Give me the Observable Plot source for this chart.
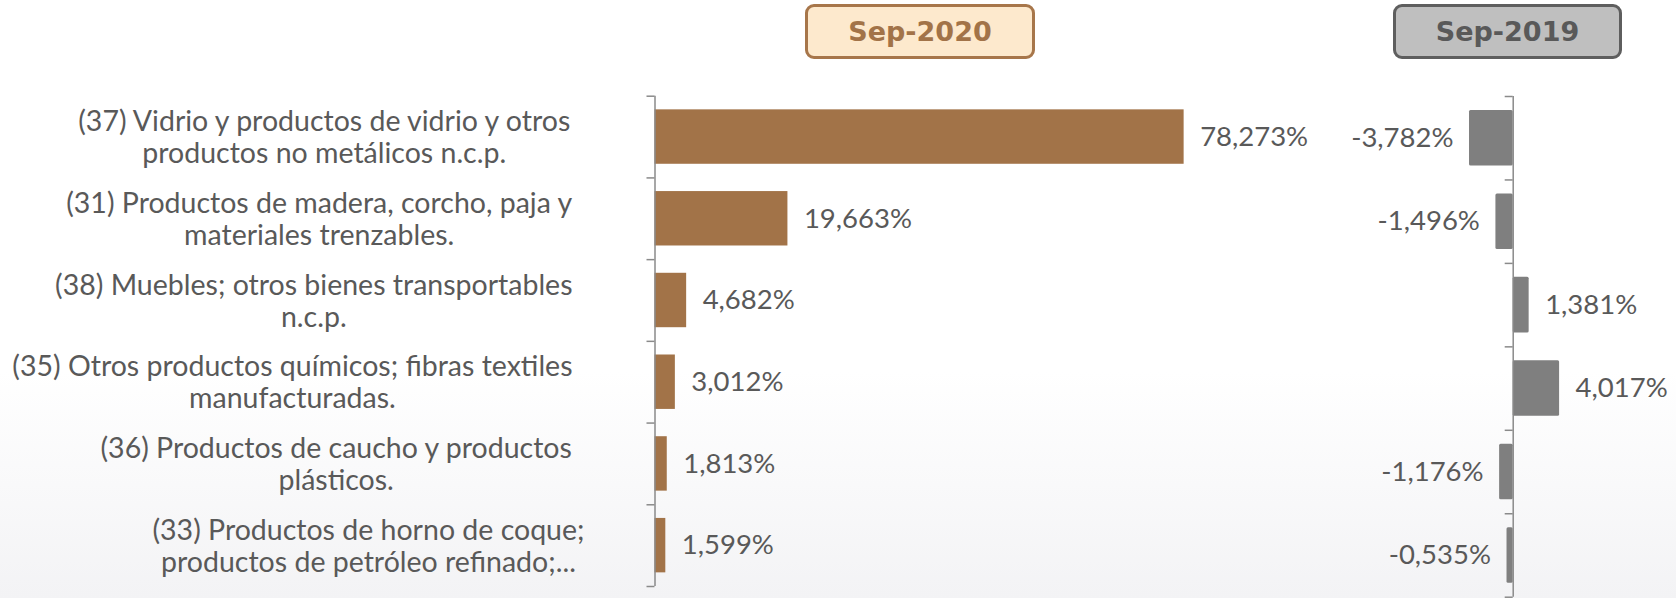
<!DOCTYPE html>
<html><head><meta charset="utf-8">
<script src="https://cdn.jsdelivr.net/npm/d3@7"></script>
<script src="https://cdn.jsdelivr.net/npm/@observablehq/plot@0.6"></script>
<style>
body{margin:0;background:#fff;}
#chart{position:relative;width:1676px;height:598px;overflow:hidden;
  background:linear-gradient(to bottom,#ffffff 0%,#ffffff 62%,#f3f3f5 100%);}
#chart svg{position:absolute;top:0;}
.hdr{position:absolute;top:4px;height:55px;box-sizing:border-box;border:3px solid;border-radius:9px;
  display:flex;align-items:center;justify-content:center;font:bold 27px "DejaVu Sans",sans-serif;}
</style></head>
<body><div id="chart"></div>
<script>
const categories = [
  "(37) Vidrio y productos de vidrio y otros\nproductos no metálicos n.c.p.",
  "(31) Productos de madera, corcho, paja y\nmateriales trenzables.",
  "(38) Muebles; otros bienes transportables\nn.c.p.",
  "(35) Otros productos químicos; fibras textiles\nmanufacturadas.",
  "(36) Productos de caucho y productos\nplásticos.",
  "(33) Productos de horno de coque;\nproductos de petróleo refinado;..."
];
const sep2020 = [78.273, 19.663, 4.682, 3.012, 1.813, 1.599];
const sep2019 = [-3.782, -1.496, 1.381, 4.017, -1.176, -0.535];
const periods = ["Sep-2020", "Sep-2019"];

const rows = categories.map((c, i) => ({i, label: c, v20: sep2020[i], v19: sep2019[i]}));
const loc = d3.formatLocale({decimal: ",", thousands: ".", grouping: [3], currency: ["", ""], minus: "-"});
const f3 = loc.format(".3f");
const fmt = v => f3(v) + "%";

const BROWN = "#a27348", GRAY = "#7f7f7f", TXT = "#595959", AXIS = "#8a8a8a";
const FONT = "Lato", FS_CAT = 28.5, FS_VAL = 27.5, LH = 32 / 28.5, PAD = 0.167;

const chart = document.getElementById("chart");

// text measurement for centred multi-line category labels
const ctx = document.createElement("canvas").getContext("2d");
ctx.font = `400 ${FS_CAT}px ${FONT}`;
const maxW = s => Math.max(...s.split("\n").map(l => ctx.measureText(l).width));
const rightEdges = [572, 572, 572, 572, 572, 584];

// Left panel (Sep-2020)
const PX_L = 6.76, AX_L = 654.5, W_L = 1350;
const left = Plot.plot({
  width: W_L, height: 598, marginLeft: AX_L, marginRight: 0, marginTop: 95.7, marginBottom: 12,
  x: {domain: [0, (W_L - AX_L) / PX_L], axis: null},
  y: {domain: [0, 6], reverse: true, axis: null},
  style: {background: "transparent", overflow: "visible", fontFamily: FONT},
  marks: [
    Plot.rectX(rows, {x1: 0, x2: "v20", y1: d => d.i + PAD, y2: d => d.i + 1 - PAD, fill: BROWN}),
    Plot.text(rows, {x: "v20", y: d => d.i + 0.5, text: d => fmt(d.v20), dx: 16, textAnchor: "start",
      fill: TXT, fontSize: FS_VAL}),
    Plot.ruleX([0], {y1: 0, y2: 6, stroke: AXIS, strokeWidth: 1.5}),
    Plot.ruleY(d3.range(7), {x1: -8 / PX_L, x2: 0, stroke: AXIS, strokeWidth: 1.5}),
    ...rows.map(r => Plot.text([r], {
      frameAnchor: "left", y: d => d.i + 0.5, text: "label", textAnchor: "middle",
      lineHeight: LH, fontSize: FS_CAT, fill: TXT,
      dx: (rightEdges[r.i] - maxW(r.label) / 2) - AX_L
    }))
  ]
});
left.style.left = "0px";
chart.appendChild(left);

// Right panel (Sep-2019)
const PX_R = 11.55, X0_R = 1350, AX_R = 1512.7, W_R = 326;
const right = Plot.plot({
  width: W_R, height: 598, marginLeft: 0, marginRight: 0, marginTop: 96, marginBottom: 1.3,
  x: {domain: [-(AX_R - X0_R) / PX_R, (X0_R + W_R - AX_R) / PX_R], axis: null},
  y: {domain: [0, 6], reverse: true, axis: null},
  style: {background: "transparent", overflow: "visible", fontFamily: FONT},
  marks: [
    Plot.rectX(rows, {x1: 0, x2: "v19", y1: d => d.i + PAD, y2: d => d.i + 1 - PAD, fill: GRAY, rx: 1.5}),
    Plot.text(rows.filter(d => d.v19 < 0), {x: "v19", y: d => d.i + 0.5, text: d => fmt(d.v19), dx: -16,
      textAnchor: "end", fill: TXT, fontSize: FS_VAL}),
    Plot.text(rows.filter(d => d.v19 >= 0), {x: "v19", y: d => d.i + 0.5, text: d => fmt(d.v19), dx: 16,
      textAnchor: "start", fill: TXT, fontSize: FS_VAL}),
    Plot.ruleX([0], {y1: 0, y2: 6, stroke: AXIS, strokeWidth: 1.5}),
    Plot.ruleY(d3.range(7), {x1: -8 / PX_R, x2: 0, stroke: AXIS, strokeWidth: 1.5})
  ]
});
right.style.left = X0_R + "px";
chart.appendChild(right);

// Panel headers
const hdrStyles = [
  {left: 805, width: 230, bg: "#fde9cd", border: "#a7764a", color: "#a27348"},
  {left: 1393, width: 229, bg: "#bfbfbf", border: "#5e5e5e", color: "#595959"}
];
periods.forEach((p, k) => {
  const s = hdrStyles[k];
  const d = document.createElement("div");
  d.className = "hdr";
  d.textContent = p;
  Object.assign(d.style, {left: s.left + "px", width: s.width + "px", background: s.bg,
    borderColor: s.border, color: s.color});
  chart.appendChild(d);
});
</script>
</body></html>
